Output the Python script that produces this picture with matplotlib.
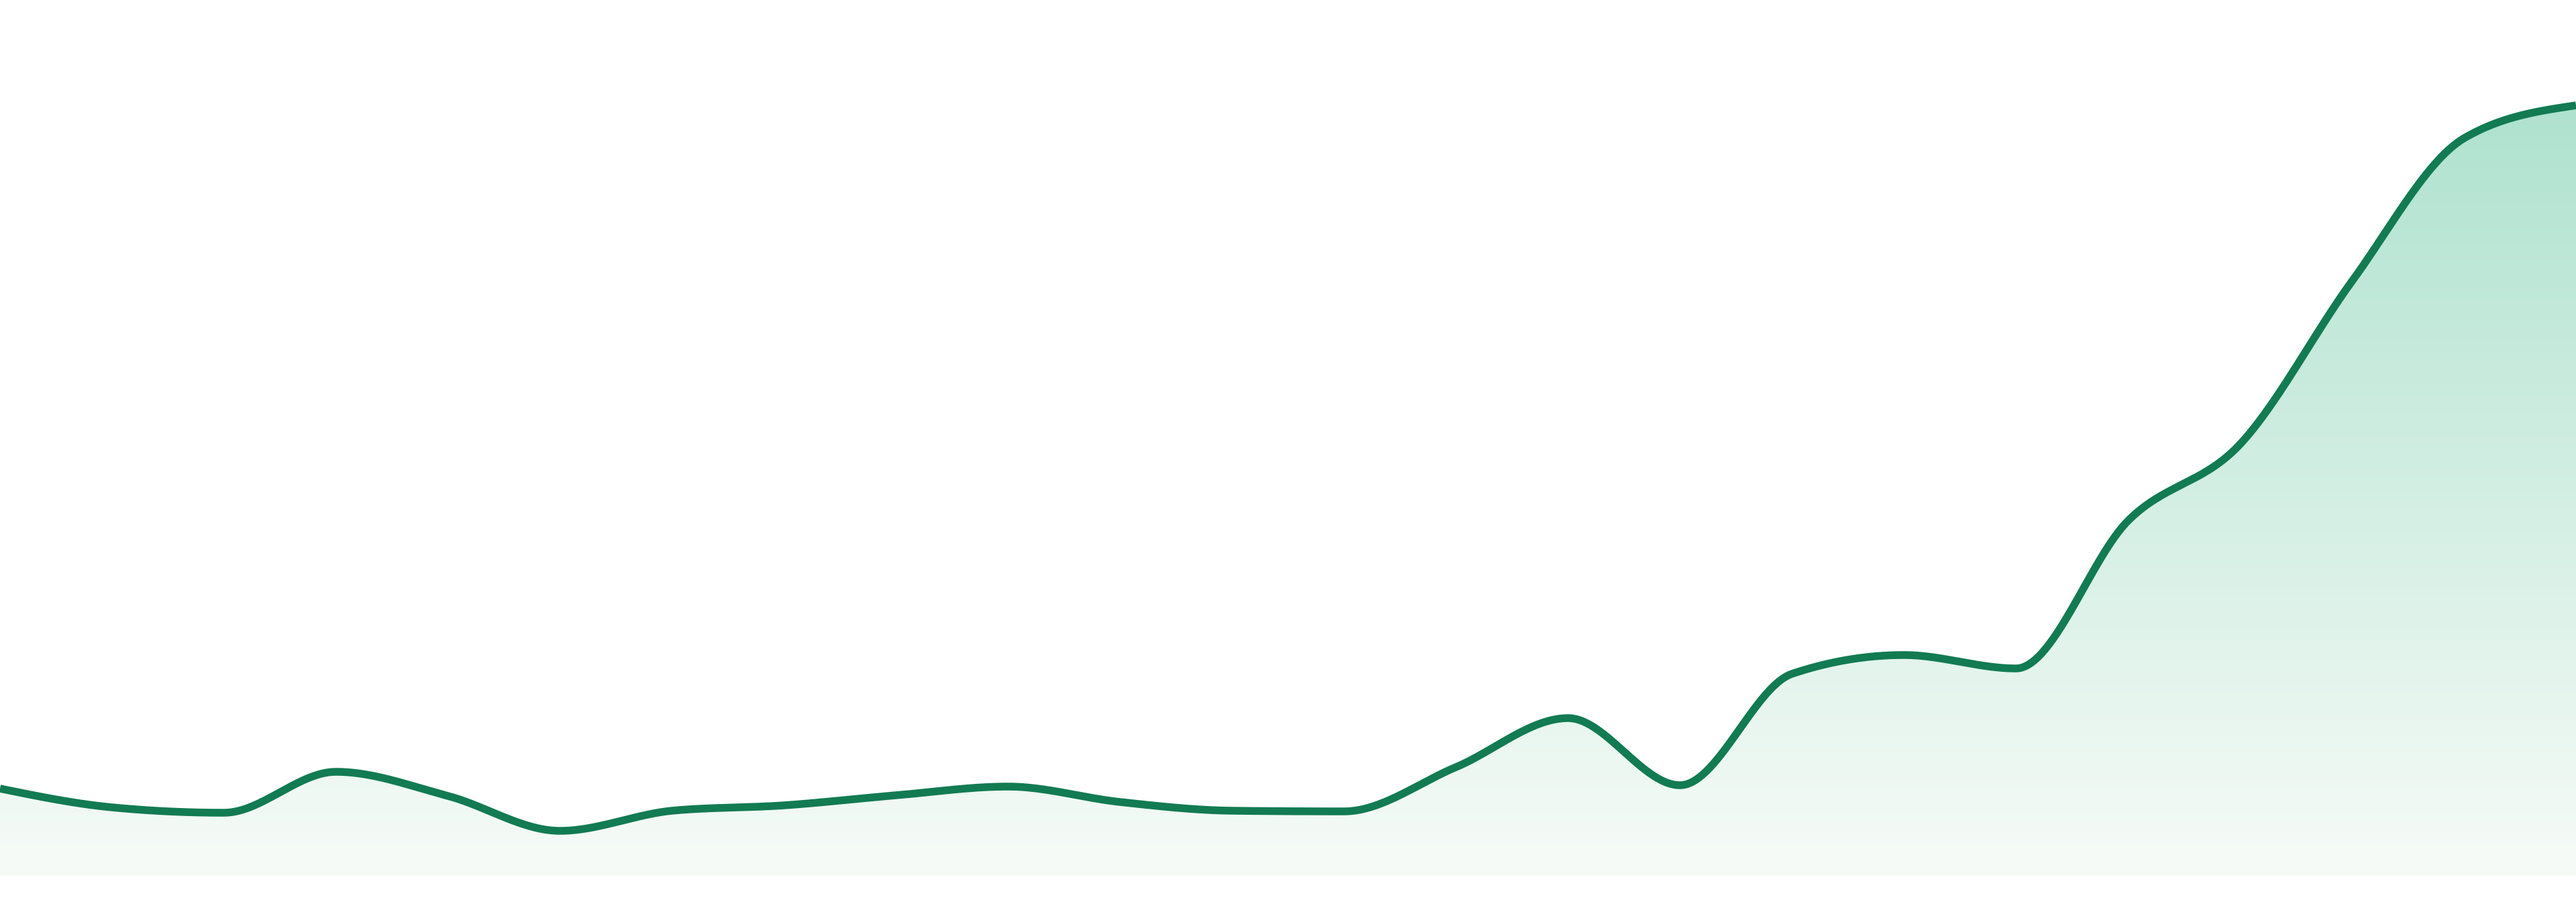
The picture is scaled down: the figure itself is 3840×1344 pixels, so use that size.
import numpy as np
import matplotlib
matplotlib.use("Agg")
import matplotlib.pyplot as plt
from matplotlib.patches import Polygon

# ---- data (24 evenly spaced observations) ----
periods = list(range(24))
values = [13.0, 10.2, 9.4, 15.5, 11.9, 6.7, 9.7, 10.5, 12.0, 13.3, 11.0, 9.7,
          9.6, 16.2, 23.5, 13.5, 30.1, 32.9, 30.9, 52.9, 64.3, 88.6, 109.9, 114.8]

line_color = "#127b52"
grad_top = (175, 226, 207)
grad_bottom = (247, 251, 248)


def monotone_x(x, y, samples=60):
    """d3.curveMonotoneX style interpolation."""
    x = np.asarray(x, float)
    y = np.asarray(y, float)
    n = len(x)
    t = np.zeros(n)
    for i in range(1, n - 1):
        h0 = x[i] - x[i - 1]
        h1 = x[i + 1] - x[i]
        s0 = (y[i] - y[i - 1]) / h0
        s1 = (y[i + 1] - y[i]) / h1
        p = (s0 * h1 + s1 * h0) / (h0 + h1)
        t[i] = (np.sign(s0) + np.sign(s1)) * min(abs(s0), abs(s1), 0.5 * abs(p))
    h = x[1] - x[0]
    t[0] = (3 * (y[1] - y[0]) / h - t[1]) / 2
    h = x[-1] - x[-2]
    t[-1] = (3 * (y[-1] - y[-2]) / h - t[-2]) / 2
    xs, ys = [], []
    u = np.linspace(0, 1, samples, endpoint=False)
    for i in range(n - 1):
        dx = (x[i + 1] - x[i]) / 3
        P0 = np.array([x[i], y[i]])
        P1 = np.array([x[i] + dx, y[i] + dx * t[i]])
        P2 = np.array([x[i + 1] - dx, y[i + 1] - dx * t[i + 1]])
        P3 = np.array([x[i + 1], y[i + 1]])
        b = ((1 - u) ** 3)[:, None] * P0 + (3 * (1 - u) ** 2 * u)[:, None] * P1 \
            + (3 * (1 - u) * u ** 2)[:, None] * P2 + (u ** 3)[:, None] * P3
        xs.append(b[:, 0])
        ys.append(b[:, 1])
    xs.append([x[-1]])
    ys.append([y[-1]])
    return np.concatenate(xs), np.concatenate(ys)


fig = plt.figure(figsize=(38.4, 13.44), dpi=100)
ax = fig.add_axes([0, 0, 1, 1])
ax.set_xlim(periods[0], periods[-1])
ax.set_ylim(-3.9, 130.5)
ax.axis("off")

xs, ys = monotone_x(periods, values)

poly = Polygon(np.column_stack([np.r_[xs, xs[-1], xs[0]], np.r_[ys, 0, 0]]),
               closed=True, facecolor="none", edgecolor="none")
ax.add_patch(poly)

nrows = 512
tt = np.linspace(0, 1, nrows)[:, None]
top = np.array(grad_top) / 255.0
bot = np.array(grad_bottom) / 255.0
rgb = top[None, :] * (1 - tt) + bot[None, :] * tt
img_arr = rgb[:, None, :]
img = ax.imshow(img_arr, extent=[periods[0], periods[-1], 0, ys.max()],
                aspect="auto", origin="upper", interpolation="bilinear", zorder=1)
img.set_clip_path(poly)
ax.set_xlim(periods[0], periods[-1])
ax.set_ylim(-3.9, 130.5)

ax.plot(xs, ys, color=line_color, lw=8.3, solid_capstyle="butt", zorder=3)

fig.savefig("out.png", dpi=100, facecolor="white")
